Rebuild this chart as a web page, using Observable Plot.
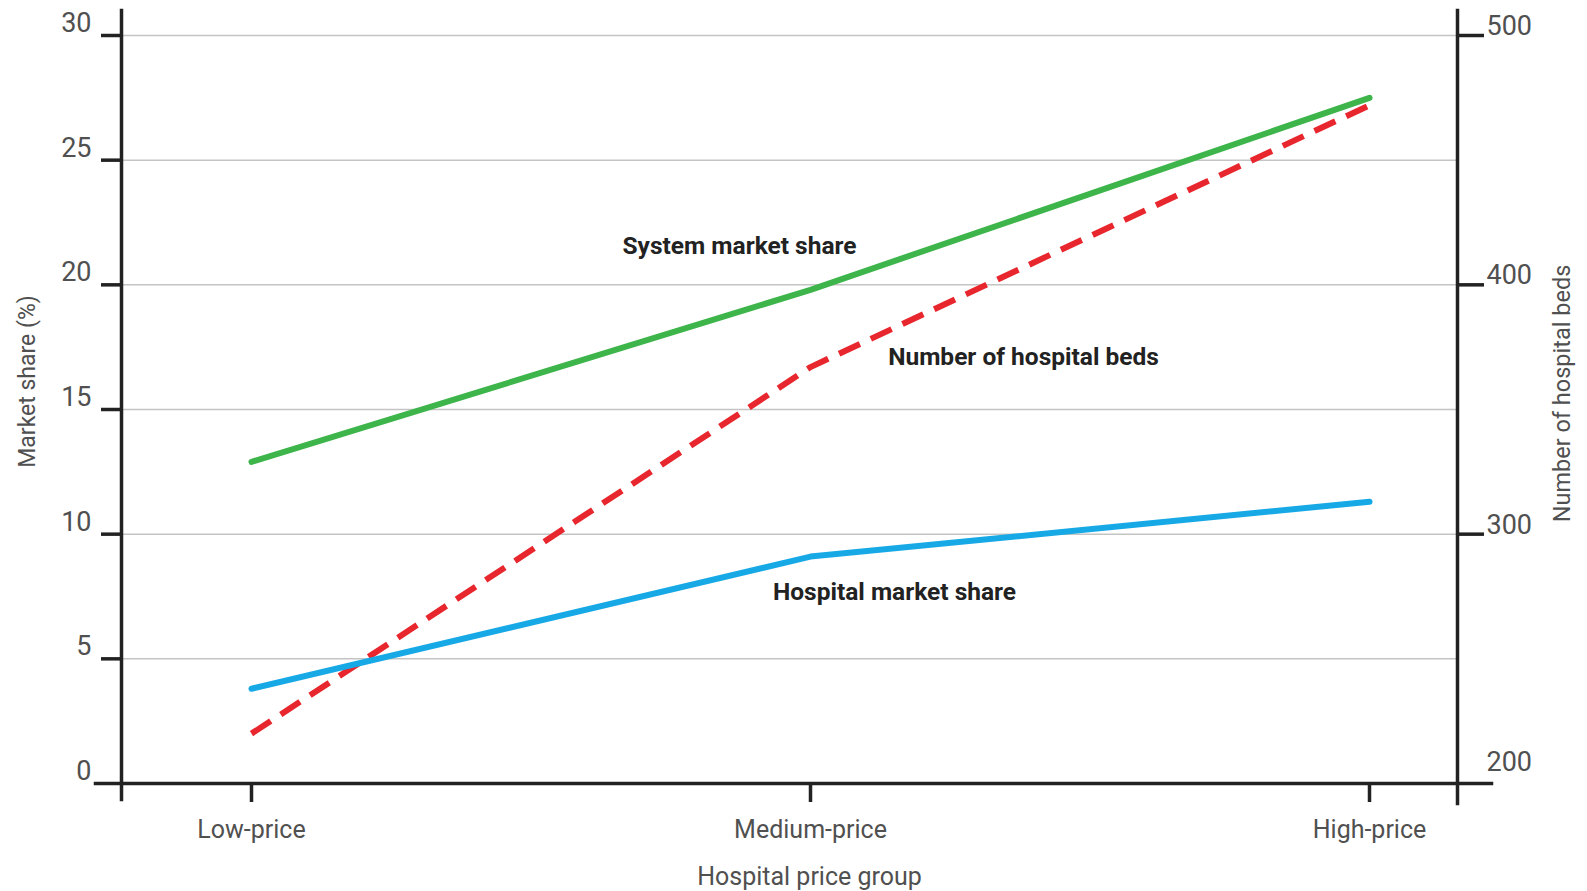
<!DOCTYPE html>
<html>
<head>
<meta charset="utf-8">
<script src="https://cdn.jsdelivr.net/npm/d3@7"></script>
<script src="https://cdn.jsdelivr.net/npm/@observablehq/plot@0.6"></script>
<style>
  html, body { margin: 0; padding: 0; background: #fff; }
  #chart svg { display: block; }
</style>
</head>
<body>
<div id="chart"></div>
<script>
// ---- data ----
const categories = ["Low-price", "Medium-price", "High-price"];
const systemShare = [12.9, 19.8, 27.5];      // % (left axis)
const hospitalShare = [3.8, 9.1, 11.3];      // % (left axis)
const hospitalBeds = [220, 367, 472];        // beds (right axis)
const leftTicks = [0, 5, 10, 15, 20, 25, 30];
const rightTicks = [300, 400, 500];
const rightBottomTick = [200];
const seriesNames = ["System market share", "Hospital market share", "Number of hospital beds"];
const xTitle = "Hospital price group";
const yLeftTitle = "Market share (%)";
const yRightTitle = "Number of hospital beds";

// right axis (200–500 beds) shares the left axis range (0–30 %)
const bedsToLeft = b => (b - 200) / 10;

const systemData = categories.map((c, i) => ({category: c, value: systemShare[i]}));
const hospitalData = categories.map((c, i) => ({category: c, value: hospitalShare[i]}));
const bedsData = categories.map((c, i) => ({category: c, value: bedsToLeft(hospitalBeds[i])}));

const axisColor = "#222";
const textColor = "#505050";

const chart = Plot.plot({
  width: 1587,
  height: 891,
  marginLeft: 121,
  marginRight: 130,
  marginTop: 35,
  marginBottom: 108,
  style: {fontFamily: "Roboto, 'Noto Sans', sans-serif", background: "#fff"},
  x: {type: "point", domain: categories, range: [250, 1369], padding: 0, label: null},
  y: {domain: [0, 30], label: null},
  marks: [
    // gridlines
    Plot.ruleY(leftTicks.filter(d => d > 0), {stroke: "#c4c4c4", strokeWidth: 1.5}),
    // series lines
    Plot.line(bedsData, {x: "category", y: "value", stroke: "#e8262d", strokeWidth: 6, strokeDasharray: "23,12", strokeLinecap: "butt"}),
    Plot.line(systemData, {x: "category", y: "value", stroke: "#3db54a", strokeWidth: 6, strokeLinecap: "round"}),
    Plot.line(hospitalData, {x: "category", y: "value", stroke: "#17a9e6", strokeWidth: 6, strokeLinecap: "round"}),
    // axis lines
    Plot.frame({anchor: "left", insetTop: -25, insetBottom: -16, stroke: axisColor, strokeWidth: 3.5}),
    Plot.frame({anchor: "right", insetTop: -25, insetBottom: -20, stroke: axisColor, strokeWidth: 3.5}),
    Plot.frame({anchor: "bottom", insetLeft: -26, insetRight: -34, stroke: axisColor, strokeWidth: 3.5}),
    // left ticks
    Plot.axisY({anchor: "left", ticks: leftTicks.filter(d => d > 0), tickSize: 20, tickFormat: () => "", stroke: axisColor, strokeWidth: 3.5}),
    Plot.text(leftTicks, {y: d => d, text: d => String(d), frameAnchor: "left", dx: -30, dy: -12, textAnchor: "end", fontSize: 27, fill: textColor}),
    // right ticks
    Plot.axisY({anchor: "right", ticks: rightTicks.map(bedsToLeft), tickSize: 26, tickFormat: () => "", stroke: axisColor, strokeWidth: 3.5}),
    Plot.text(rightTicks, {y: d => bedsToLeft(d), text: d => String(d), frameAnchor: "right", dx: 29, dy: -9, textAnchor: "start", fontSize: 27, fill: textColor}),
    Plot.text(rightBottomTick, {y: d => bedsToLeft(d), text: d => String(d), frameAnchor: "right", dx: 29, dy: -21, textAnchor: "start", fontSize: 27, fill: textColor}),
    // x axis
    Plot.axisX({anchor: "bottom", tickSize: 19, tickPadding: 18, fontSize: 25, fill: textColor, stroke: axisColor, strokeWidth: 3.5}),
    // axis titles
    Plot.text([xTitle], {frameAnchor: "bottom", dx: 20, dy: 101, textAnchor: "middle", fontSize: 25, fill: textColor}),
    Plot.text([yLeftTitle], {frameAnchor: "left", dx: -94, dy: -28, rotate: -90, textAnchor: "middle", fontSize: 23, fill: textColor}),
    Plot.text([yRightTitle], {frameAnchor: "right", dx: 105, dy: -16, rotate: -90, textAnchor: "middle", fontSize: 23.5, fill: textColor}),
    // series annotations (anchored to the medium-price points)
    Plot.text([systemData[1]], {x: "category", y: "value", text: () => seriesNames[0], dx: -71, dy: -44, fontSize: 24.5, fontWeight: "bold", fill: "#222"}),
    Plot.text([hospitalData[1]], {x: "category", y: "value", text: () => seriesNames[1], dx: 84, dy: 36, fontSize: 24.5, fontWeight: "bold", fill: "#222"}),
    Plot.text([bedsData[1]], {x: "category", y: "value", text: () => seriesNames[2], dx: 213, dy: -10, fontSize: 24.5, fontWeight: "bold", fill: "#222"})
  ]
});

document.getElementById("chart").appendChild(chart);
</script>
</body>
</html>
